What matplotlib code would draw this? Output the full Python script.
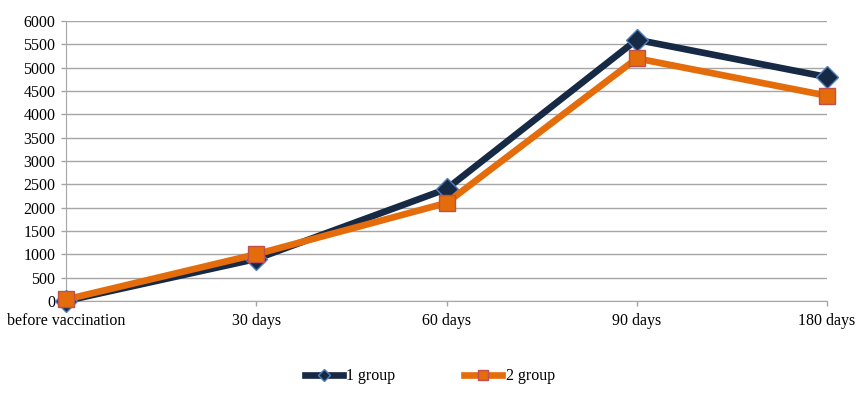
import matplotlib
matplotlib.use("Agg")
import matplotlib.pyplot as plt

categories = ["before vaccination", "30 days", "60 days", "90 days", "180 days"]
group1 = [0, 900, 2400, 5600, 4800]
group2 = [30, 1000, 2100, 5200, 4400]
yticks = list(range(0, 6001, 500))

plt.rcParams["font.family"] = ["Liberation Serif", "DejaVu Serif"]
plt.rcParams["font.size"] = 11.5

fig = plt.figure(figsize=(8.67, 3.98), dpi=100)
ax = fig.add_axes([0.076, 0.244, 0.878, 0.703])

x = list(range(len(categories)))
ax.plot(x, group1, color="#172A45", linewidth=4.8, marker="D", markersize=11,
        markerfacecolor="#172A45", markeredgecolor="#4F7FBF", markeredgewidth=1,
        label="1 group", zorder=3, clip_on=False)
ax.plot(x, group2, color="#E46C0A", linewidth=4.8, marker="s", markersize=11,
        markerfacecolor="#E46C0A", markeredgecolor="#C0504D", markeredgewidth=1,
        label="2 group", zorder=4, clip_on=False)

ax.set_xlim(0, len(categories) - 1)
ax.set_ylim(0, 6000)
ax.set_yticks(yticks)
ax.set_xticks(x)
ax.set_xticklabels(categories)
ax.grid(axis="y", color="#A6A6A6", linewidth=1)
ax.set_axisbelow(True)
for side in ["top", "right"]:
    ax.spines[side].set_visible(False)
for side in ["left", "bottom"]:
    ax.spines[side].set_color("#A6A6A6")
ax.tick_params(axis="both", color="#A6A6A6", length=3.5, width=1)
ax.tick_params(axis="x", pad=5)
ax.tick_params(axis="y", pad=4)

ax.legend(loc="center", bbox_to_anchor=(0.478, -0.27), ncol=2, frameon=False,
          columnspacing=4.3, handlelength=2.4, handletextpad=0.2,
          markerscale=0.6, fontsize=11.5)

fig.savefig("out.png", dpi=100)
